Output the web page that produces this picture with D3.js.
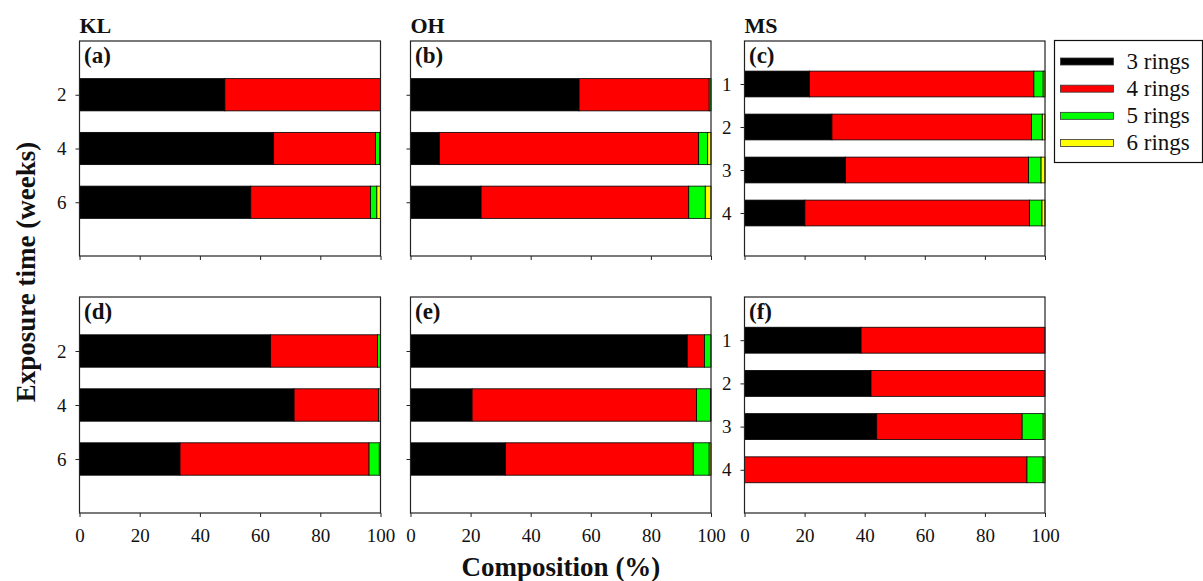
<!DOCTYPE html>
<html>
<head>
<meta charset="utf-8">
<script src="https://cdn.jsdelivr.net/npm/d3@7"></script>
</head>
<body style="margin:0">
<svg id="chart" width="1203" height="581"></svg>
<script>
// ---------- data ----------
const series = ["3 rings", "4 rings", "5 rings", "6 rings"];
const seriesColors = ["#000000", "#ff0000", "#00ff00", "#ffff00"];
const siteNames = ["KL", "OH", "MS"];
const panelLetters = ["(a)", "(b)", "(c)", "(d)", "(e)", "(f)"];
const weeksKLOH = [2, 4, 6];
const weeksMS = [1, 2, 3, 4];
const xTicks = [0, 20, 40, 60, 80, 100];

// rows = exposure time, columns = 3, 4, 5, 6 rings (%)
const panelA = [[48.3, 51.7, 0.0, 0.0], [64.5, 33.8, 1.4, 0.3], [56.9, 39.8, 2.1, 1.2]];
const panelB = [[56.1, 43.3, 0.6, 0.0], [9.6, 86.3, 3.0, 1.1], [23.5, 69.1, 5.5, 1.9]];
const panelC = [[21.6, 74.7, 3.1, 0.6], [29.1, 66.4, 3.6, 0.9], [33.6, 60.9, 4.2, 1.3], [20.1, 74.7, 4.2, 1.0]];
const panelD = [[63.5, 35.5, 1.0, 0.0], [71.3, 28.0, 0.7, 0.0], [33.4, 62.8, 3.4, 0.4]];
const panelE = [[92.1, 5.7, 2.2, 0.0], [20.5, 74.7, 4.6, 0.2], [31.6, 62.5, 5.3, 0.6]];
const panelF = [[38.8, 61.2, 0.0, 0.0], [42.1, 57.9, 0.0, 0.0], [44.0, 48.4, 7.0, 0.6], [0.0, 94.0, 5.4, 0.6]];

// ---------- layout ----------
const serifFamily = "Liberation Serif";
const svg = d3.select("#chart");
const colX = [[79.5, 380.5], [410.5, 711], [744.5, 1045]];
const rowY = [[41, 256], [297, 513]];

function serif(sel) {
  return sel.attr("font-family", serifFamily).style("font-family", `'${serifFamily}'`);
}

const panels = [
  { data: panelA, cats: weeksKLOH, col: 0, row: 0 },
  { data: panelB, cats: weeksKLOH, col: 1, row: 0 },
  { data: panelC, cats: weeksMS, col: 2, row: 0 },
  { data: panelD, cats: weeksKLOH, col: 0, row: 1 },
  { data: panelE, cats: weeksKLOH, col: 1, row: 1 },
  { data: panelF, cats: weeksMS, col: 2, row: 1 }
];

panels.forEach((p, i) => {
  const [x0, x1] = colX[p.col];
  const [y0, y1] = rowY[p.row];
  const step = p.cats[1] - p.cats[0];
  const x = d3.scaleLinear().domain([0, 100]).range([x0, x1]);
  const y = d3.scaleLinear()
    .domain([0, p.cats[p.cats.length - 1] + step])
    .range([y0, y1]);
  const barH = Math.abs(y(step * 0.6) - y(0));

  const g = svg.append("g");

  g.append("rect").attr("x", x0).attr("y", y0)
    .attr("width", x1 - x0).attr("height", y1 - y0)
    .attr("fill", "#fff");

  // stacked bars
  p.data.forEach((row, ri) => {
    let cum = 0;
    const stacks = row.map((v, si) => {
      const s = { start: cum, end: cum + v, si: si, cat: p.cats[ri] };
      cum += v;
      return s;
    }).filter(s => s.end - s.start > 0);
    g.selectAll(null).data(stacks).enter().append("rect")
      .attr("x", s => x(s.start))
      .attr("y", s => y(s.cat) - barH / 2)
      .attr("width", s => x(s.end) - x(s.start))
      .attr("height", barH)
      .attr("fill", s => seriesColors[s.si])
      .attr("stroke", "#000")
      .attr("stroke-width", 0.8);
  });

  // frame
  g.append("rect").attr("x", x0).attr("y", y0)
    .attr("width", x1 - x0).attr("height", y1 - y0)
    .attr("fill", "none").attr("stroke", "#222").attr("stroke-width", 1.2);

  // axes
  const showY = (p.col !== 1);
  const yAxis = d3.axisLeft(y).tickValues(p.cats).tickSize(4).tickPadding(9)
    .tickFormat(showY ? d3.format("d") : () => "");
  const ya = g.append("g").attr("transform", `translate(${x0},0)`).call(yAxis);
  ya.select(".domain").remove();
  ya.selectAll("line").attr("stroke", "#222");
  serif(ya.selectAll("text")).attr("font-size", 19).attr("fill", "#111");

  const showX = (p.row === 1);
  const xAxis = d3.axisBottom(x).tickValues(xTicks).tickSize(4).tickPadding(12)
    .tickFormat(showX ? d3.format("d") : () => "");
  const xa = g.append("g").attr("transform", `translate(0,${y1})`).call(xAxis);
  xa.select(".domain").remove();
  xa.selectAll("line").attr("stroke", "#222");
  serif(xa.selectAll("text")).attr("font-size", 19).attr("fill", "#111");

  // panel letter
  serif(g.append("text")).attr("x", x0 + 4.5).attr("y", y0 + 22)
    .attr("font-size", 23).attr("font-weight", "bold").attr("fill", "#111")
    .text(panelLetters[i]);

  // site title
  if (p.row === 0) {
    serif(g.append("text")).attr("x", x0).attr("y", y0 - 8)
      .attr("font-size", 22).attr("font-weight", "bold").attr("fill", "#111")
      .text(siteNames[p.col]);
  }
});

// ---------- legend ----------
const lg = svg.append("g");
lg.append("rect").attr("x", 1054.5).attr("y", 40.5).attr("width", 148).attr("height", 122)
  .attr("fill", "#fff").attr("stroke", "#111").attr("stroke-width", 1.2);
const legY = d3.scalePoint().domain(series).range([61.5, 143]);
series.forEach((s, i) => {
  lg.append("rect").attr("x", 1060.5).attr("y", legY(s) - 3.5).attr("width", 53).attr("height", 7)
    .attr("fill", seriesColors[i]).attr("stroke", "#333").attr("stroke-width", 0.8);
  serif(lg.append("text")).attr("x", 1126.5).attr("y", legY(s) + 7)
    .attr("font-size", 23).attr("fill", "#111").text(s);
});

// ---------- axis titles ----------
serif(svg.append("text")).attr("x", 561).attr("y", 576).attr("text-anchor", "middle")
  .attr("font-size", 27).attr("font-weight", "bold").attr("fill", "#111")
  .text("Composition (%)");
serif(svg.append("text")).attr("transform", "translate(35,272) rotate(-90)")
  .attr("text-anchor", "middle")
  .attr("font-size", 27).attr("font-weight", "bold").attr("fill", "#111")
  .text("Exposure time (weeks)");
</script>
</body>
</html>
